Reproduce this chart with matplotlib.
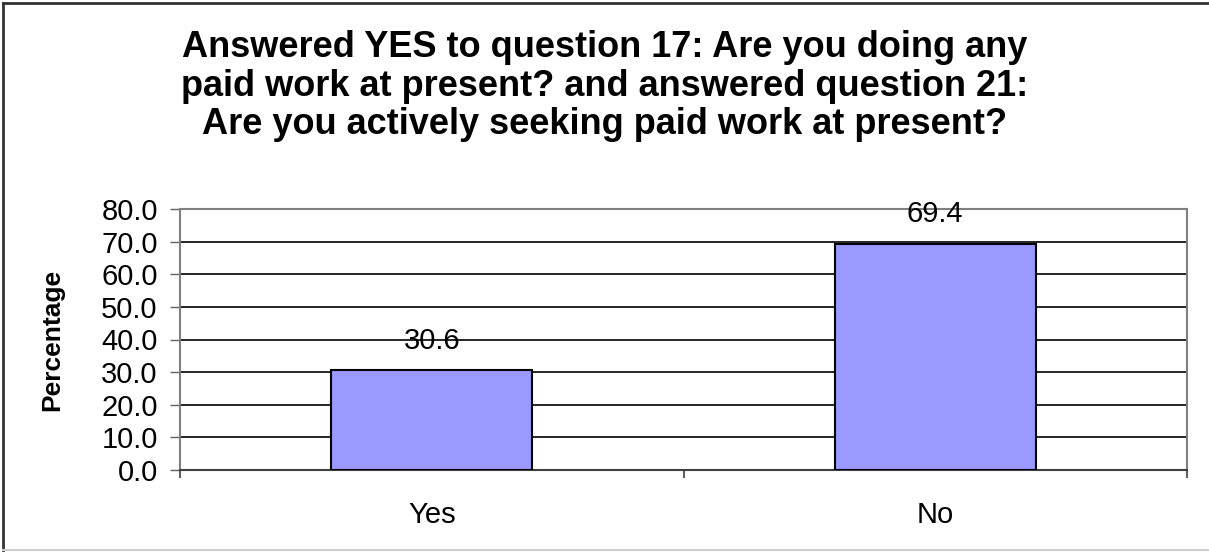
import matplotlib
matplotlib.use("Agg")
import matplotlib.pyplot as plt
from matplotlib.lines import Line2D

categories = ["Yes", "No"]
percentages = [30.6, 69.4]
y_ticks = [0, 10, 20, 30, 40, 50, 60, 70, 80]

title = ("Answered YES to question 17: Are you doing any\n"
         "paid work at present? and answered question 21:\n"
         "Are you actively seeking paid work at present?")

plt.rcParams["font.family"] = ["Liberation Sans", "DejaVu Sans"]

W, H = 1209, 552
fig = plt.figure(figsize=(W / 100, H / 100), dpi=100)

# plot area in pixel coords
left, right, top, bottom = 180, 1187, 209, 470
ax = fig.add_axes([left / W, 1 - bottom / H, (right - left) / W, (bottom - top) / H])

x = list(range(len(categories)))
ax.bar(x, percentages, width=0.4, color="#9999ff", edgecolor="black",
       linewidth=1.5, zorder=3)

for xi, v in zip(x, percentages):
    ax.annotate(f"{v:.1f}", (xi, v), xytext=(0, 11), textcoords="offset points",
                ha="center", va="bottom", fontsize=21, zorder=4)

ax.set_xlim(-0.5, len(categories) - 0.5)
ax.set_ylim(0, 80)
ax.set_yticks(y_ticks)
ax.set_yticklabels([f"{t:.1f}" for t in y_ticks])
ax.set_xticks(x)
ax.set_xticklabels(categories)
ax.set_xticks([i - 0.5 for i in range(len(categories) + 1)], minor=True)

ax.tick_params(axis="y", direction="out", length=7, width=1, color="#606060",
               labelsize=21, pad=9)
ax.tick_params(axis="x", which="major", length=0, labelsize=21, pad=22)
ax.tick_params(axis="x", which="minor", direction="out", length=6, width=1.5,
               color="#606060")

ax.yaxis.grid(True, color="black", linewidth=1.2, zorder=0)
ax.set_axisbelow(True)
for name, sp in ax.spines.items():
    sp.set_color("#808080")
    sp.set_linewidth(1.5)
ax.spines["bottom"].set_color("#404040")

ax.set_ylabel("Percentage", fontsize=19, fontweight="bold")
ax.yaxis.set_label_coords((52 - left) / (right - left), 0.5)
ax.yaxis.label.set_va("center")

fig.text(0.5, 1 - 86 / H, title, ha="center", va="center", fontsize=26,
         fontweight="bold", linespacing=1.12)

# outer chart border
fig.add_artist(Line2D([2.5 / W, 1], [1 - 2.5 / H, 1 - 2.5 / H], color="#333333",
                      linewidth=2, transform=fig.transFigure))
fig.add_artist(Line2D([2.5 / W, 2.5 / W], [1 - 2.5 / H, 1 - 550 / H], color="#333333",
                      linewidth=2, transform=fig.transFigure))
fig.add_artist(Line2D([2.5 / W, 1], [1 - 550 / H, 1 - 550 / H], color="#d0d0d0",
                      linewidth=1.5, transform=fig.transFigure))

fig.savefig("out.png", dpi=100)
